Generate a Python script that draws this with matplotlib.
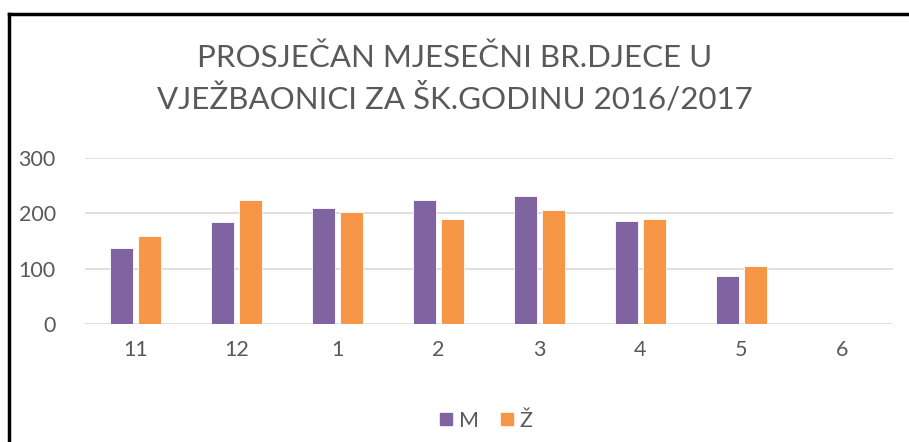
import matplotlib.pyplot as plt
import numpy as np
from matplotlib.lines import Line2D

months = ["11", "12", "1", "2", "3", "4", "5", "6"]
boys = [138, 185, 210, 224, 231, 187, 87, 0]
girls = [159, 224, 203, 190, 206, 190, 105, 0]
series_names = ["M", "Ž"]
y_ticks = [0, 100, 200, 300]

purple = "#8064A2"
orange = "#F79646"
text_gray = "#595959"
grid_gray = "#D9D9D9"

plt.rcParams["font.family"] = ["Lato", "DejaVu Sans"]

fig = plt.figure(figsize=(9.09, 4.42), dpi=100)
ax = fig.add_axes([85 / 909, 1 - 323.7 / 442, 808 / 909, 165.4 / 442])

x = np.arange(len(months))
w = 0.225
ax.bar(x - 0.14, boys, w, color=purple, edgecolor="white", linewidth=0.6, zorder=3)
ax.bar(x + 0.14, girls, w, color=orange, edgecolor="white", linewidth=0.6, zorder=3)

ax.set_xlim(-0.5, len(months) - 0.5)
ax.set_ylim(0, 300)
ax.set_yticks(y_ticks)
ax.set_xticks(x)
ax.set_xticklabels(months)
ax.grid(axis="y", color=grid_gray, linewidth=1.2, zorder=0)
for s in ax.spines.values():
    s.set_visible(False)
ax.tick_params(length=0, colors=text_gray, labelsize=15.5)
ax.tick_params(axis="x", pad=12)
ax.tick_params(axis="y", pad=21)

fig.text(0.5, 1 - 67 / 442, "PROSJEČAN MJESEČNI BR.DJECE U", ha="center", va="baseline",
         color=text_gray, fontsize=22.5)
fig.text(0.5, 1 - 108 / 442, "VJEŽBAONICI ZA ŠK.GODINU 2016/2017", ha="center", va="baseline",
         color=text_gray, fontsize=22.5)

handles = [Line2D([], [], marker="s", linestyle="none", markersize=8, color=c)
           for c in (purple, orange)]
fig.legend(handles, series_names, loc="center", bbox_to_anchor=(484 / 909, 1 - 421 / 442),
           ncol=2, frameon=False, fontsize=15.5, labelcolor=text_gray,
           handletextpad=0.1, columnspacing=0.8, handlelength=1.0)

# chart frame (only left and top edges are visible in the crop)
fig.add_artist(Line2D([9 / 909, 9 / 909], [0, 1 - 14 / 442], color="black", linewidth=2.5))
fig.add_artist(Line2D([9 / 909, 1], [1 - 14 / 442, 1 - 14 / 442], color="black", linewidth=2.5))

fig.savefig("out.png", dpi=100)
